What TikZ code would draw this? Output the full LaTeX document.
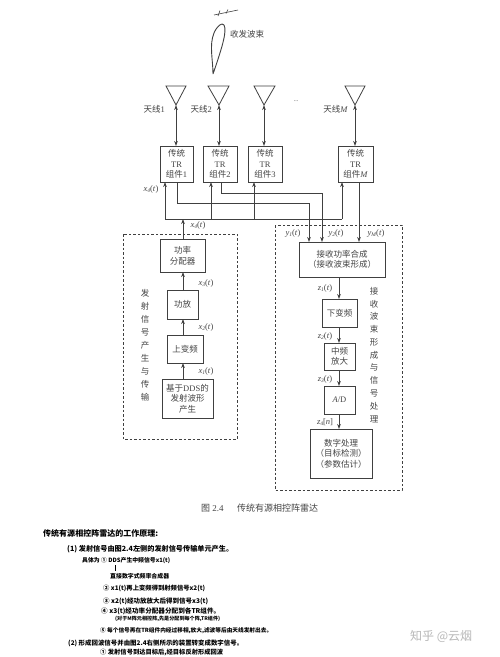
\documentclass[tikz,border=0pt]{standalone}
\usepackage{fontspec}
\usepackage{graphicx}
\setmainfont{Liberation Serif}
\newfontfamily\cjk{Noto Sans CJK SC}
\usetikzlibrary{arrows.meta,calc}
\definecolor{ink}{HTML}{404040}
\definecolor{txt}{HTML}{444444}
\newcommand{\C}[1]{{\cjk #1}}
\newcommand{\hw}[5]{\node[anchor=west,inner sep=0,text=black] (#1) at (#2,#3) {\resizebox{#4pt}{!}{\cjk\bfseries #5}};}
\newcommand{\vr}[2]{\textit{#1}\raisebox{-1.6pt}{\fontsize{5.5}{6}\selectfont\textit{#2}}(\textit{t})}
\begin{document}
\begin{tikzpicture}[x=1pt,y=-1pt,
  every node/.style={text=txt,font=\fontsize{8.5}{10.5}\selectfont,align=center},
  blk/.style={draw=ink,line width=0.9pt,inner sep=0},
  lbl/.style={inner sep=0,font=\fontsize{8.5}{9}\selectfont},
  wire/.style={draw=ink,line width=0.8pt},
  arr/.style={wire,-{Stealth[length=5pt,width=3.6pt]}},
  darr/.style={wire,{Stealth[length=5pt,width=3.6pt]}-{Stealth[length=5pt,width=3.6pt]}},
  zone/.style={draw=ink,line width=0.8pt,dash pattern=on 2.5pt off 2pt},
  ant/.style={draw=ink,line width=0.8pt},
]
\useasboundingbox[fill=white] (0,0) rectangle (500,657);
% zones
\draw[zone] (123,234) rectangle (237,439);
\draw[zone] (275,225) rectangle (402,490);
% beam
\draw[ink,line width=0.9pt] (213,74) .. controls (213,60) and (209,45) .. (214,33) .. controls (217,26) and (222,22) .. (224,25) .. controls (227,31) and (223,45) .. (213,74);
\draw[ink,line width=0.6pt] (214,15) -- (238,10);
\draw[ink,line width=0.6pt] (220,10.5) -- (218,16) (228,9.5) -- (226,13.5);
\node[anchor=west,inner sep=0] (beam) at (230,34) {\C{收发波束}};
% antennas
\coordinate (a1) at (176,105); \coordinate (a2) at (219,105); \coordinate (a3) at (264,105); \coordinate (aM) at (355,105);
\draw[ant] (166,86) -- (186,86) -- (a1) -- cycle;
\draw[ant] (208,86) -- (229,86) -- (a2) -- cycle;
\draw[ant] (254,86) -- (275,86) -- (a3) -- cycle;
\draw[ant] (345,86) -- (365,86) -- (aM) -- cycle;
\node[inner sep=0] (d1) at (296,101) {\fontsize{6}{6}\selectfont ...};
\node[inner sep=0,anchor=east] (t1) at (165,109) {\C{天线}1};
\node[inner sep=0,anchor=east] (t2) at (212,109) {\C{天线}2};
\node[inner sep=0,anchor=east] (tM) at (348,109) {\C{天线}\textit{M}};
% TR
\node[blk,minimum width=33pt,minimum height=36pt] (tr1) at (176.5,164) {\C{传统}\\TR\\\C{组件}1};
\node[blk,minimum width=34pt,minimum height=36pt] (tr2) at (220,164) {\C{传统}\\TR\\\C{组件}2};
\node[blk,minimum width=34pt,minimum height=36pt] (tr3) at (265,164) {\C{传统}\\TR\\\C{组件}3};
\node[blk,minimum width=35pt,minimum height=36pt] (trM) at (355.5,164) {\C{传统}\\TR\\\C{组件}\textit{M}};
\draw[darr] (a1) -- (176,146);
\draw[darr] (a2) -- (219,146);
\draw[darr] (a3) -- (264,146);
\draw[darr] (aM) -- (355,146);
% left chain
\node[blk,minimum width=45pt,minimum height=33pt] (pd) at (182.5,255.5) {\C{功率}\\\C{分配器}};
\node[blk,minimum width=31pt,minimum height=29pt] (pa) at (182.5,304.5) {\C{功放}};
\node[blk,minimum width=36pt,minimum height=28pt] (uc) at (185,349) {\C{上变频}};
\node[blk,minimum width=51pt,minimum height=39pt] (dds) at (187.5,398.5) {\C{基于}DDS\C{的}\\\C{发射波形}\\\C{产生}};
\coordinate (busL) at (165,219); \coordinate (busR) at (342,219);
\draw[wire] (busL) -- (busR);
\draw[arr] (busL) -- (165,182);
\draw[arr] (211,219) -- (211,182);
\draw[arr] (254,219) -- (254,182);
\draw[arr] (busR) -- (342,182);
\draw[arr] (183,239) -- (183,219);
\draw[arr] (183,290) -- (183,272);
\draw[arr] (183,335) -- (183,319);
\draw[arr] (183,379) -- (183,363);
% right chain
\node[blk,minimum width=86pt,minimum height=35pt] (rx) at (342,259.5) {\C{接收功率合成}\\\C{（接收波束形成）}};
\node[blk,minimum width=35pt,minimum height=28pt] (dc) at (339.5,313) {\C{下变频}};
\node[blk,minimum width=31pt,minimum height=27pt] (if) at (339.5,356.5) {\C{中频}\\\C{放大}};
\node[blk,minimum width=31pt,minimum height=28pt] (ad) at (339.5,400) {\textit{A}/D};
\node[blk,minimum width=62pt,minimum height=49pt] (dsp) at (341,453.5) {\C{数字处理}\\\C{（目标检测）}\\\C{（参数估计）}};
\draw[arr] (177,182) -- (177,203) -- (309,203) -- (309,242);
\draw[arr] (221,182) -- (221,193) -- (322,193) -- (322,242);
\draw[arr] (359,182) -- (359,242);
\draw[arr] (339,277) -- (339,299);
\draw[arr] (339,327) -- (339,343);
\draw[arr] (339,370) -- (339,386);
\draw[arr] (339,414) -- (339,429);
% signal labels
\newcommand{\sig}[4]{\node[lbl] (#1) at (#2,#3) {#4};}
\sig{l1}{151}{189}{\vr{x}{4}}
\sig{l2}{198}{225}{\vr{x}{4}}
\sig{l3}{206}{283}{\vr{x}{3}}
\sig{l4}{206}{327}{\vr{x}{2}}
\sig{l5}{206}{371}{\vr{x}{1}}
\sig{l6}{293}{233}{\vr{y}{1}}
\sig{l7}{336}{233}{\vr{y}{2}}
\sig{l8}{376}{233}{\vr{y}{M}}
\sig{l9}{325}{288}{\vr{z}{1}}
\sig{l10}{325}{336}{\vr{z}{2}}
\sig{l11}{325}{379}{\vr{z}{3}}
\sig{l12}{325}{422}{\textit{z}\raisebox{-1.6pt}{\fontsize{5.5}{6}\selectfont 4}[\textit{n}]}
% vertical captions
\foreach \c [count=\i from 0] in {发,射,信,号,产,生,与,传,输}
  \node[inner sep=0] (v\i) at (145,293+13*\i) {\C{\c}};
\foreach \c [count=\i from 0] in {接,收,波,束,形,成,与,信,号,处,理}
  \node[inner sep=0] (w\i) at (374,291+12.8*\i) {\C{\c}};
% figure caption
\node[inner sep=0,anchor=west] (cap) at (201,508) {\fontsize{9}{10}\selectfont\makebox[36pt][l]{\C{图} 2.4}\C{传统有源相控阵雷达}};
% handwriting
\hw{h1}{43}{533}{115}{传统有源相控阵雷达的工作原理:}
\hw{h2}{67}{549}{166}{(1) 发射信号由图2.4左侧的发射信号传输单元产生。}
\hw{h3}{82}{561}{88}{具体为 ① DDS产生中频信号x1(t)}
\hw{h4}{110}{576}{59}{直接数字式频率合成器}
\hw{h5}{103}{588}{102}{② x1(t)再上变频得到射频信号x2(t)}
\hw{h6}{103}{601}{105}{③ x2(t)经功放放大后得到信号x3(t)}
\hw{h7}{101}{611}{119}{④ x3(t)经功率分配器分配到各TR组件。}
\hw{h8}{115}{619}{105}{(对于M阵元相控阵,先是分配到每个阵,TR组件)}
\hw{h9}{100}{631}{172}{⑤ 每个信号再在TR组件内经过移相,放大,滤波等后由天线发射出去。}
\hw{h10}{68}{643}{175}{(2) 形成回波信号并由图2.4右侧所示的装置转变成数字信号。}
\hw{h11}{100}{652}{123}{① 发射信号到达目标后,经目标反射形成回波}
\draw[black,line width=0.5pt] (115,565) -- (115,571);
\node[inner sep=0,anchor=west,text=black!28] (wm) at (410,636) {\fontsize{12}{14}\selectfont\C{知乎 @云烟}};
\end{tikzpicture}
\end{document}
